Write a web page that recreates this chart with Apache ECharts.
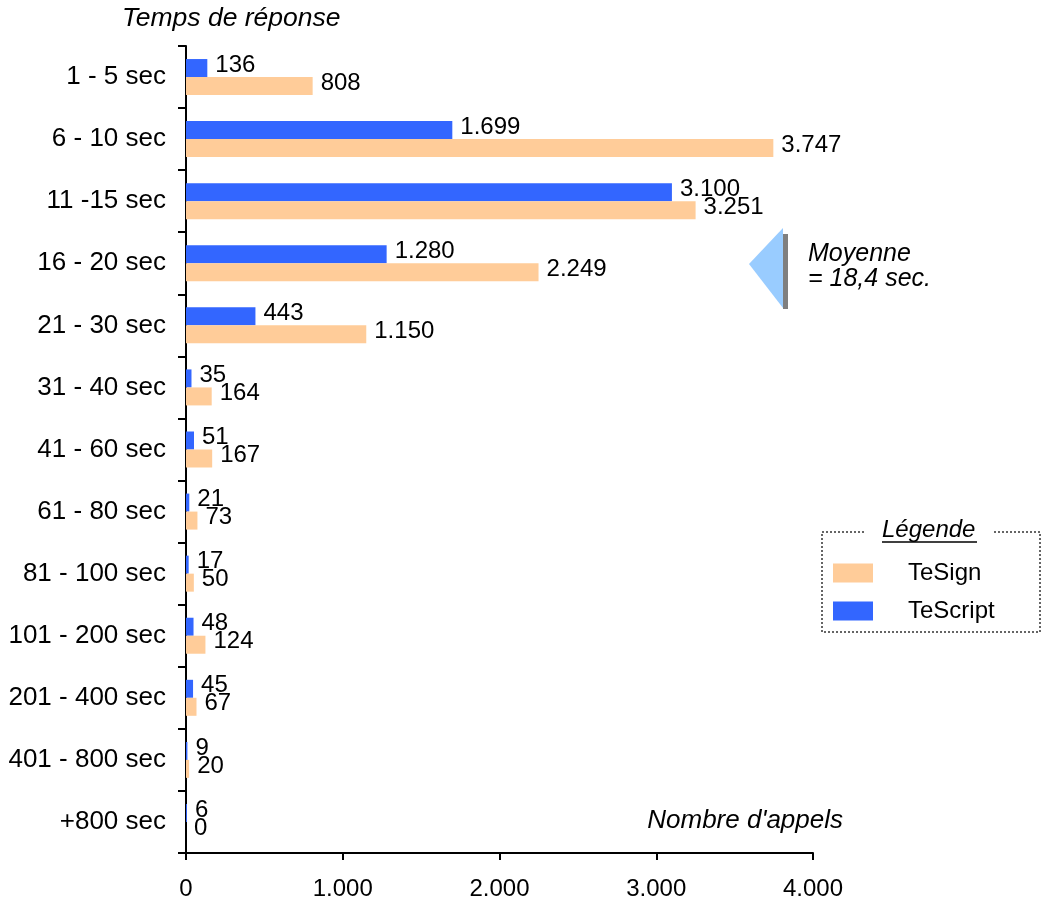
<!DOCTYPE html>
<html>
<head>
<meta charset="utf-8">
<script src="https://cdn.jsdelivr.net/npm/echarts@6/dist/echarts.min.js"></script>
<style>
  html, body { margin: 0; padding: 0; background: #fff; }
  #chart { width: 1046px; height: 908px; }
</style>
</head>
<body>
<div id="chart"></div>
<script>
// temps de réponse
var categories = ['1 - 5 sec', '6 - 10 sec', '11 -15 sec', '16 - 20 sec', '21 - 30 sec', '31 - 40 sec',
  '41 - 60 sec', '61 - 80 sec', '81 - 100 sec', '101 - 200 sec', '201 - 400 sec', '401 - 800 sec', '+800 sec'];
var teScript = [136, 1699, 3100, 1280, 443, 35, 51, 21, 17, 48, 45, 9, 6];
var teSign = [808, 3747, 3251, 2249, 1150, 164, 167, 73, 50, 124, 67, 20, 0];
var xTicks = [0, 1000, 2000, 3000, 4000];

var FONT = '"Liberation Sans", Arial, Helvetica, sans-serif';

function fmt(v) {
  return String(v).replace(/\B(?=(\d{3})+(?!\d))/g, '.');
}

function barLabel() {
  return {
    show: true,
    position: 'right',
    distance: 8,
    offset: [0, -3],
    color: '#000',
    fontFamily: FONT,
    fontSize: 24,
    formatter: function (p) { return fmt(p.value); }
  };
}

var myChart = echarts.init(document.getElementById('chart'));

var option = {
  backgroundColor: '#fff',
  animation: false,
  grid: { left: 186, right: 233, top: 46, bottom: 55 },
  legend: {
    orient: 'vertical',
    left: 833,
    top: 561,
    padding: 0,
    itemWidth: 40,
    itemHeight: 19,
    itemGap: 14,
    icon: 'rect',
    data: ['TeSign', 'TeScript'],
    textStyle: { fontFamily: FONT, fontSize: 24, color: '#000', padding: [0, 0, 0, 30] }
  },
  xAxis: {
    type: 'value',
    min: xTicks[0],
    max: xTicks[xTicks.length - 1],
    interval: 1000,
    splitLine: { show: false },
    axisLine: { show: true, lineStyle: { color: '#000', width: 2 } },
    axisTick: { show: true, length: 7, lineStyle: { color: '#000', width: 2 } },
    axisLabel: { margin: 24, color: '#000', fontFamily: FONT, fontSize: 24, formatter: fmt }
  },
  yAxis: {
    type: 'category',
    inverse: true,
    data: categories,
    axisLine: { show: true, lineStyle: { color: '#000', width: 2 } },
    axisTick: { show: true, length: 8, lineStyle: { color: '#000', width: 2 } },
    axisLabel: { margin: 20, color: '#000', fontFamily: FONT, fontSize: 26 }
  },
  series: [
    {
      name: 'TeScript',
      type: 'bar',
      data: teScript,
      barWidth: 18,
      barGap: '0%',
      itemStyle: { color: '#3366ff' },
      label: barLabel()
    },
    {
      name: 'TeSign',
      type: 'bar',
      data: teSign,
      barWidth: 18,
      barGap: '0%',
      itemStyle: { color: '#ffcc99' },
      label: barLabel()
    }
  ],
  graphic: [
    { type: 'text', left: 122, top: 5,
      style: { text: 'Temps de réponse', font: 'italic 26.5px ' + FONT, fill: '#000' } },
    { type: 'text', right: 1046 - 843, top: 808,
      style: { text: "Nombre d'appels", font: 'italic 26px ' + FONT, fill: '#000' } },
    // moyenne
    { type: 'polygon', shape: { points: [[749, 264], [783, 228], [783, 308]] }, style: { fill: '#99ccff' } },
    { type: 'rect', shape: { x: 783, y: 234, width: 5, height: 75 }, style: { fill: '#7f7f7f' } },
    { type: 'text', left: 808, top: 242,
      style: { text: 'Moyenne\n= 18,4 sec.', font: 'italic 25px ' + FONT, fill: '#000', lineHeight: 25 } },
    // légende
    { type: 'rect', shape: { x: 822, y: 532, width: 218, height: 100 },
      style: { fill: 'none', stroke: '#333', lineWidth: 1.5, lineDash: [2, 2] } },
    { type: 'rect', shape: { x: 866, y: 526, width: 126, height: 12 }, style: { fill: '#fff' } },
    { type: 'text', left: 882, top: 518,
      style: { text: 'Légende', font: 'italic 24px ' + FONT, fill: '#000' } },
    { type: 'line', shape: { x1: 882, y1: 542, x2: 977, y2: 542 }, style: { stroke: '#000', lineWidth: 1.5 } }
  ]
};

myChart.setOption(option);
</script>
</body>
</html>
